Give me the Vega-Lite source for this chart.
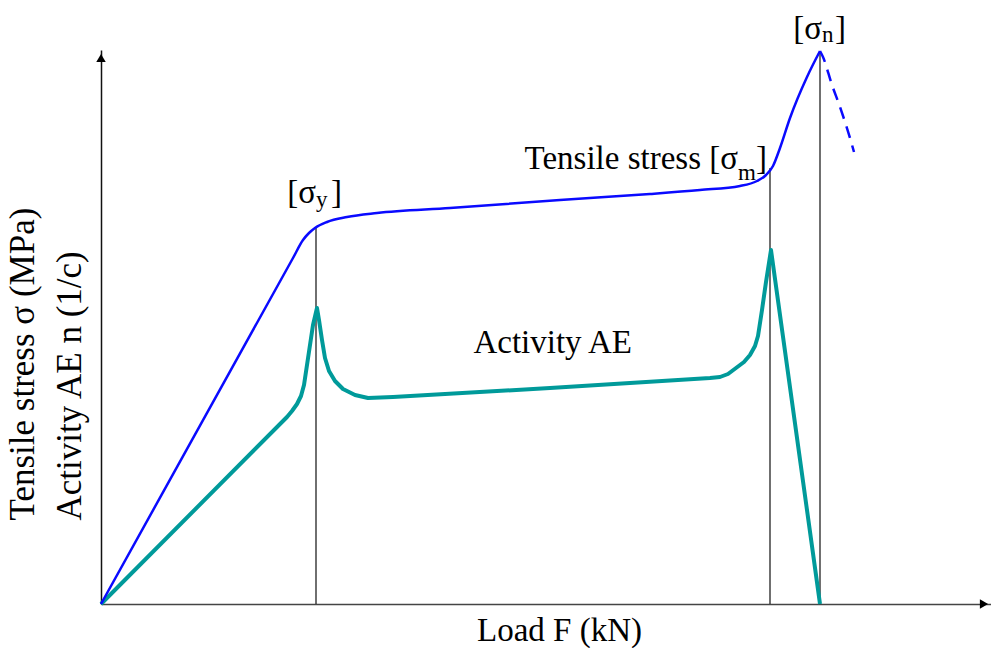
{
  "$schema": "https://vega.github.io/schema/vega-lite/v6.json",
  "width": 890,
  "height": 554,
  "autosize": {"type": "none"},
  "padding": {"left": 101, "top": 50, "right": 0, "bottom": 44},
  "background": "white",
  "config": {"view": {"stroke": null}},
  "datasets": {
    "curves": [
      {"series": "Tensile stress", "load": 0, "value": 0},
      {"series": "Tensile stress", "load": 192, "value": 346},
      {"series": "Tensile stress", "load": 202, "value": 364},
      {"series": "Tensile stress", "load": 208, "value": 371},
      {"series": "Tensile stress", "load": 214, "value": 376},
      {"series": "Tensile stress", "load": 226, "value": 382},
      {"series": "Tensile stress", "load": 246, "value": 387},
      {"series": "Tensile stress", "load": 276, "value": 391},
      {"series": "Tensile stress", "load": 349, "value": 396},
      {"series": "Tensile stress", "load": 459, "value": 404},
      {"series": "Tensile stress", "load": 549, "value": 410},
      {"series": "Tensile stress", "load": 599, "value": 414},
      {"series": "Tensile stress", "load": 639, "value": 418},
      {"series": "Tensile stress", "load": 656, "value": 423},
      {"series": "Tensile stress", "load": 665, "value": 429},
      {"series": "Tensile stress", "load": 672, "value": 438},
      {"series": "Tensile stress", "load": 679, "value": 456},
      {"series": "Tensile stress", "load": 689, "value": 486},
      {"series": "Tensile stress", "load": 706, "value": 527},
      {"series": "Tensile stress", "load": 719, "value": 553},
      {"series": "Post-peak", "load": 719, "value": 553},
      {"series": "Post-peak", "load": 722, "value": 547},
      {"series": "Post-peak", "load": 731, "value": 519},
      {"series": "Post-peak", "load": 739, "value": 497},
      {"series": "Post-peak", "load": 749, "value": 466},
      {"series": "Post-peak", "load": 753, "value": 452},
      {"series": "Activity AE", "load": 0, "value": 0},
      {"series": "Activity AE", "load": 186, "value": 187},
      {"series": "Activity AE", "load": 191, "value": 193},
      {"series": "Activity AE", "load": 196, "value": 200},
      {"series": "Activity AE", "load": 200, "value": 208},
      {"series": "Activity AE", "load": 203, "value": 219},
      {"series": "Activity AE", "load": 206, "value": 239},
      {"series": "Activity AE", "load": 209, "value": 259},
      {"series": "Activity AE", "load": 212, "value": 279},
      {"series": "Activity AE", "load": 216, "value": 296},
      {"series": "Activity AE", "load": 218, "value": 284},
      {"series": "Activity AE", "load": 221, "value": 264},
      {"series": "Activity AE", "load": 224, "value": 246},
      {"series": "Activity AE", "load": 228, "value": 233},
      {"series": "Activity AE", "load": 234, "value": 223},
      {"series": "Activity AE", "load": 242, "value": 215},
      {"series": "Activity AE", "load": 254, "value": 209},
      {"series": "Activity AE", "load": 267, "value": 206},
      {"series": "Activity AE", "load": 292, "value": 207},
      {"series": "Activity AE", "load": 449, "value": 216},
      {"series": "Activity AE", "load": 609, "value": 226},
      {"series": "Activity AE", "load": 619, "value": 227},
      {"series": "Activity AE", "load": 627, "value": 230},
      {"series": "Activity AE", "load": 635, "value": 236},
      {"series": "Activity AE", "load": 643, "value": 242},
      {"series": "Activity AE", "load": 649, "value": 249},
      {"series": "Activity AE", "load": 654, "value": 258},
      {"series": "Activity AE", "load": 657, "value": 268},
      {"series": "Activity AE", "load": 661, "value": 294},
      {"series": "Activity AE", "load": 665, "value": 322},
      {"series": "Activity AE", "load": 670, "value": 354},
      {"series": "Activity AE", "load": 719, "value": 0}
    ],
    "marks": [
      {"load": 215, "bottom": 0, "top": 376},
      {"load": 669, "bottom": 0, "top": 436},
      {"load": 719, "bottom": 0, "top": 553}
    ],
    "labels": [
      {"part": "main", "load": 215, "value": 401, "text": "[σ"},
      {"part": "sub", "load": 215, "value": 397, "text": "y"},
      {"part": "close", "load": 230, "value": 401, "text": "]"},
      {"part": "main", "load": 637, "value": 435, "text": "Tensile stress [σ"},
      {"part": "sub", "load": 637, "value": 424, "text": "m"},
      {"part": "close", "load": 655, "value": 435, "text": "]"},
      {"part": "main", "load": 721, "value": 565, "text": "[σ"},
      {"part": "sub", "load": 721, "value": 562, "text": "n"},
      {"part": "close", "load": 734, "value": 565, "text": "]"},
      {"part": "main", "load": 531, "value": 251, "text": "Activity AE"}
    ],
    "arrows": [
      {"dir": "up", "load": 0, "value": 546},
      {"dir": "right", "load": 883, "value": 0}
    ]
  },
  "encoding": {
    "x": {
      "field": "load", "type": "quantitative",
      "scale": {"domain": [0, 890], "nice": false, "zero": false},
      "axis": {
        "domain": true, "domainColor": "#444", "domainWidth": 1.5,
        "ticks": false, "labels": false, "grid": false,
        "title": "Load F (kN)",
        "titleFont": "Liberation Serif", "titleFontSize": 33, "titleFontWeight": "normal", "titleColor": "black",
        "titleX": 458, "titleY": 36, "titleAlign": "center", "titleBaseline": "alphabetic"
      }
    },
    "y": {
      "field": "value", "type": "quantitative",
      "scale": {"domain": [0, 554], "nice": false, "zero": false},
      "axis": {
        "domain": true, "domainColor": "#111", "domainWidth": 1.5,
        "ticks": false, "labels": false, "grid": false,
        "title": ["Tensile stress σ (MPa)", "Activity AE n (1/c)"],
        "titleFont": "Liberation Serif", "titleFontSize": 35, "titleFontWeight": "normal", "titleColor": "black",
        "titleAngle": 270, "titleAlign": "left", "titleBaseline": "alphabetic",
        "titleX": -68, "titleY": 470, "titleLineHeight": 47
      }
    }
  },
  "layer": [
    {
      "data": {"name": "marks"},
      "mark": {"type": "rule", "color": "#222", "strokeWidth": 1.3},
      "encoding": {
        "y": {"field": "bottom", "type": "quantitative"},
        "y2": {"field": "top"}
      }
    },
    {
      "data": {"name": "curves"},
      "transform": [{"filter": "datum.series === 'Activity AE'"}],
      "mark": {"type": "line", "color": "#009a9a", "strokeWidth": 4, "strokeJoin": "round"},
      "encoding": {"order": {"field": "load", "type": "quantitative"}}
    },
    {
      "data": {"name": "curves"},
      "transform": [{"filter": "datum.series === 'Tensile stress'"}],
      "mark": {"type": "line", "color": "#0a0aff", "strokeWidth": 2.5, "interpolate": "monotone"},
      "encoding": {"order": {"field": "load", "type": "quantitative"}}
    },
    {
      "data": {"name": "curves"},
      "transform": [{"filter": "datum.series === 'Post-peak'"}],
      "mark": {"type": "line", "color": "#0a0aff", "strokeWidth": 2.5, "strokeDash": [12, 8], "interpolate": "monotone"},
      "encoding": {"order": {"field": "load", "type": "quantitative"}}
    },
    {
      "data": {"name": "arrows"},
      "transform": [{"filter": "datum.dir === 'up'"}],
      "mark": {"type": "point", "filled": true, "color": "black", "opacity": 1, "size": 90},
      "encoding": {"shape": {"value": "triangle-up"}}
    },
    {
      "data": {"name": "arrows"},
      "transform": [{"filter": "datum.dir === 'right'"}],
      "mark": {"type": "point", "filled": true, "color": "black", "opacity": 1, "size": 90},
      "encoding": {"shape": {"value": "triangle-right"}}
    },
    {
      "data": {"name": "labels"},
      "transform": [{"filter": "datum.part === 'main'"}],
      "mark": {"type": "text", "font": "Liberation Serif", "fontSize": 33, "align": "right", "baseline": "alphabetic", "color": "black"},
      "encoding": {"text": {"field": "text"}}
    },
    {
      "data": {"name": "labels"},
      "transform": [{"filter": "datum.part === 'sub'"}],
      "mark": {"type": "text", "font": "Liberation Serif", "fontSize": 23, "align": "left", "baseline": "alphabetic", "color": "black"},
      "encoding": {"text": {"field": "text"}}
    },
    {
      "data": {"name": "labels"},
      "transform": [{"filter": "datum.part === 'close'"}],
      "mark": {"type": "text", "font": "Liberation Serif", "fontSize": 33, "align": "left", "baseline": "alphabetic", "color": "black"},
      "encoding": {"text": {"field": "text"}}
    }
  ]
}
